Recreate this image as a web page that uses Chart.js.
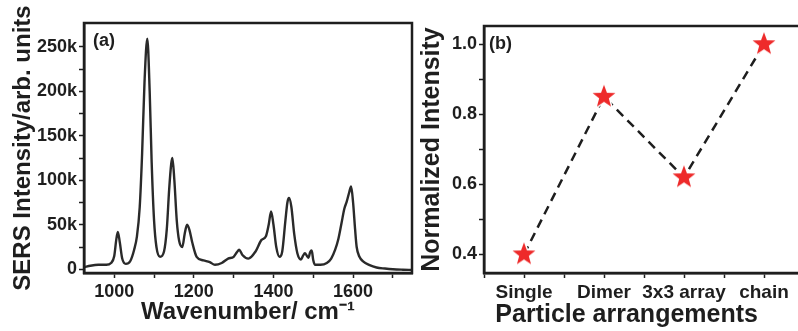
<!DOCTYPE html>
<html>
<head>
<meta charset="utf-8">
<script src="https://cdn.jsdelivr.net/npm/chart.js@4"></script>
<style>
  html, body { margin: 0; padding: 0; background: #fff; }
  body { width: 798px; height: 331px; overflow: hidden; position: relative; }
  #wrapA { position: absolute; left: 0; top: 0; width: 420px; height: 331px; }
  #wrapB { position: absolute; left: 420px; top: 0; width: 400px; height: 331px; }
</style>
</head>
<body>
<div id="wrapA"><canvas id="chartA"></canvas></div>
<div id="wrapB"><canvas id="chartB"></canvas></div>
<script>
// panel (a): SERS spectrum
const wavenumbers = [
  925, 940, 960, 980, 992, 1000, 1005, 1009, 1014, 1020, 1029, 1040, 1050, 1057,
  1064, 1070, 1076, 1083, 1089, 1094, 1100, 1106, 1115, 1125, 1132, 1138, 1143,
  1146, 1151, 1157, 1163, 1171, 1177, 1183, 1189, 1196, 1207, 1224, 1240, 1253,
  1270, 1286, 1300, 1308, 1314, 1322, 1337, 1355, 1370, 1381, 1388, 1394, 1400,
  1407, 1415, 1422, 1430, 1435, 1439, 1445, 1452, 1460, 1469, 1474, 1479, 1484,
  1488, 1492, 1496, 1500, 1504, 1518, 1534, 1545, 1555, 1563, 1571, 1578, 1584,
  1590, 1595, 1600, 1605, 1609, 1616, 1626, 1640, 1659, 1680, 1700, 1725, 1748
];
const intensity = [
  2500, 4000, 5000, 5000, 7000, 15000, 33000, 42000, 30000, 12000, 6000, 9000, 22000, 37000,
  70000, 130000, 210000, 259000, 200000, 120000, 55000, 25000, 14000, 20000, 45000, 90000, 118000,
  125000, 100000, 55000, 32000, 25000, 40000, 50000, 44000, 30000, 14000, 10000, 8000, 5000,
  7000, 12000, 14000, 19000, 22000, 16000, 12000, 20000, 33000, 37000, 50000, 65000, 50000,
  25000, 14000, 20000, 55000, 75000, 80000, 70000, 40000, 18000, 11000, 15000, 18000, 15000,
  13000, 19000, 21000, 10000, 5000, 5000, 7000, 12000, 22000, 34000, 52000, 68000, 76000,
  86000, 93000, 75000, 45000, 25000, 14000, 8500, 5000, 2000, 800, 0, -500, -800
];
const xTicksA = [1000, 1100, 1200, 1300, 1400, 1500, 1600, 1700];
const xLabelsA = { 1000: '1000', 1200: '1200', 1400: '1400', 1600: '1600' };
const yTicksA = [0, 25000, 50000, 75000, 100000, 125000, 150000, 175000, 200000, 225000, 250000];
const yLabelsA = { 0: '0', 50000: '50k', 100000: '100k', 150000: '150k', 200000: '200k', 250000: '250k' };

// panel (b): normalized intensity per arrangement
const arrangements = ['Single', 'Dimer', '3x3 array', 'chain'];
const normIntensity = [0.40, 0.85, 0.62, 1.00];
const yTicksB = [0.4, 0.5, 0.6, 0.7, 0.8, 0.9, 1.0];
const yLabelsB = { '0.4': '0.4', '0.6': '0.6', '0.8': '0.8', '1': '1.0' };

const FONT = "'Liberation Sans', Arial, Helvetica, sans-serif";
const INK = '#1e1e1e';

function makeStar(r, color) {
  const c = document.createElement('canvas');
  const s = Math.ceil(r * 2 + 6);
  c.width = s; c.height = s;
  const g = c.getContext('2d');
  g.beginPath();
  for (let i = 0; i < 10; i++) {
    const a = -Math.PI / 2 + i * Math.PI / 5;
    const rr = i % 2 === 0 ? r : r * 0.42;
    g.lineTo(s / 2 + rr * Math.cos(a), s / 2 + rr * Math.sin(a));
  }
  g.closePath();
  g.lineWidth = 3;
  g.strokeStyle = '#ffffff';
  g.lineJoin = 'round';
  g.stroke();
  g.fillStyle = color;
  g.fill();
  return c;
}

function framePlugin(tag) {
  return {
    id: 'frame' + tag,
    afterDraw(chart) {
      const { ctx, chartArea: a } = chart;
      ctx.save();
      ctx.strokeStyle = INK;
      ctx.lineWidth = 2.5;
      ctx.strokeRect(a.left, a.top, a.right - a.left, a.bottom - a.top);
      ctx.fillStyle = INK;
      ctx.font = 'bold 18px ' + FONT;
      ctx.textBaseline = 'top';
      ctx.textAlign = 'left';
      ctx.fillText(tag, a.left + (tag === '(a)' ? 9 : 5), a.top + 9);
      ctx.restore();
    }
  };
}

function axisBase() {
  return {
    grid: {
      drawOnChartArea: false,
      drawTicks: true,
      tickLength: 5,
      tickColor: INK,
      tickWidth: 1.5
    },
    border: { display: true, color: INK, width: 2.5 },
    ticks: {
      color: INK,
      font: { family: FONT, size: 18, weight: 'bold' },
      maxRotation: 0,
      autoSkip: false
    },
    title: {
      display: true,
      color: INK,
      font: { family: FONT, size: 24, weight: 'bold', lineHeight: 1 }
    }
  };
}

// ---- chart A ----
const xA = axisBase();
Object.assign(xA, {
  type: 'linear', min: 924, max: 1748,
  afterBuildTicks: s => { s.ticks = xTicksA.map(v => ({ value: v })); },
  afterFit: s => { s.height = 58; }
});
xA.ticks.padding = 3;
xA.ticks.callback = v => xLabelsA[v] || '';
xA.title.text = 'Wavenumber/ cm\u207B\u00B9';
xA.title.padding = { top: 0, bottom: 7 };

const yA = axisBase();
Object.assign(yA, {
  type: 'linear', min: -4200, max: 276700,
  afterBuildTicks: s => { s.ticks = yTicksA.map(v => ({ value: v })); },
  afterFit: s => { s.width = 84; }
});
yA.ticks.padding = 2;
yA.ticks.callback = v => yLabelsA[v] || '';
yA.title.text = 'SERS Intensity/arb. units';
yA.title.padding = { top: 11, bottom: 0 };

new Chart(document.getElementById('chartA'), {
  type: 'line',
  data: {
    labels: wavenumbers,
    datasets: [{
      data: wavenumbers.map((w, i) => ({ x: w, y: intensity[i] })),
      borderColor: '#2a2a2a',
      borderWidth: 2.4,
      pointRadius: 0,
      cubicInterpolationMode: 'monotone',
      fill: false
    }]
  },
  options: {
    responsive: true,
    maintainAspectRatio: false,
    animation: false,
    layout: { padding: { left: 0, right: 8, top: 23, bottom: 0 } },
    plugins: { legend: { display: false }, tooltip: { enabled: false } },
    scales: { x: xA, y: yA }
  },
  plugins: [framePlugin('(a)')]
});

// ---- chart B ----
const xB = axisBase();
Object.assign(xB, {
  type: 'linear', min: -0.5, max: 3.5,
  afterBuildTicks: s => {
    const t = [];
    arrangements.forEach((_, i) => { t.push({ value: i - 0.5 }); t.push({ value: i }); });
    t.push({ value: arrangements.length - 0.5 });
    s.ticks = t;
  },
  afterFit: s => { s.height = 58; }
});
xB.ticks.padding = 3;
xB.ticks.font.size = 19;
xB.ticks.callback = v => Number.isInteger(v) ? arrangements[v] : '';
// the box runs past the right edge, so the title sits left of its centre
xB.title.text = 'Particle arrangements\u00A0\u00A0\u00A0\u00A0\u00A0';
xB.title.font.size = 25;
xB.title.padding = { top: 0, bottom: 3 };

const yB = axisBase();
Object.assign(yB, {
  type: 'linear', min: 0.347, max: 1.052,
  afterBuildTicks: s => { s.ticks = yTicksB.map(v => ({ value: v })); },
  afterFit: s => { s.width = 64; }
});
yB.ticks.padding = 2;
yB.ticks.callback = v => yLabelsB[String(Math.round(v * 10) / 10)] || '';
yB.title.text = 'Normalized Intensity';
yB.title.font.size = 25;
yB.title.padding = { top: 0, bottom: 0 };

const star = makeStar(12, '#ee2a2a');

new Chart(document.getElementById('chartB'), {
  type: 'line',
  data: {
    datasets: [{
      data: normIntensity.map((v, i) => ({ x: i, y: v })),
      borderColor: INK,
      borderWidth: 2.5,
      borderDash: [9, 6],
      tension: 0,
      pointStyle: star,
      pointRadius: 12,
      fill: false
    }]
  },
  options: {
    responsive: true,
    maintainAspectRatio: false,
    animation: false,
    layout: { padding: { left: 0, right: 16, top: 26, bottom: 0 } },
    plugins: { legend: { display: false }, tooltip: { enabled: false } },
    scales: { x: xB, y: yB }
  },
  plugins: [framePlugin('(b)')]
});
</script>
</body>
</html>
